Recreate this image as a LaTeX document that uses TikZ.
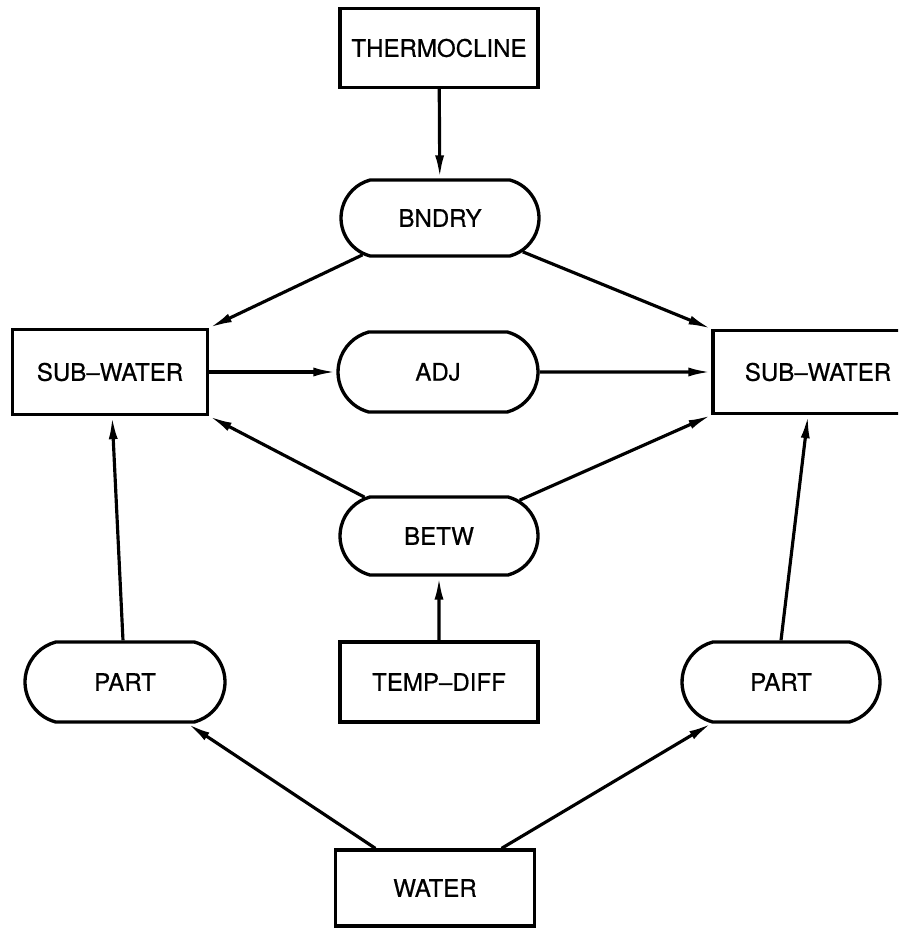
\documentclass[tikz,border=0pt]{standalone}
\usepackage{fontspec}
\setmainfont{TeX Gyre Heros}[FakeBold=0.6]
\usetikzlibrary{arrows.meta,shapes.misc}

\begin{document}
\begin{tikzpicture}[
  x=0.02cm, y=-0.02cm,
  every node/.style={inner sep=0pt,
    font=\fontsize{13.7pt}{16pt}\selectfont},
  box/.style={draw, line width=1.9pt, rectangle,
    minimum width=3.96cm, minimum height=1.58cm},
  proc/.style={draw, line width=1.9pt, rounded rectangle,
    rounded rectangle arc length=150,
    minimum width=3.96cm, minimum height=1.56cm},
  arr/.style={line width=1.8pt, -{Latex[length=0.46cm,width=0.18cm]}}
]
\useasboundingbox (0,0) rectangle (898,928);
\clip (0,0) rectangle (898,928);

% nodes
\node[box]  (thermo) at (439,48)  {THERMOCLINE};
\node[proc, minimum height=1.52cm] (bndry) at (440,218) {BNDRY};
\node[box, minimum width=3.9cm, minimum height=1.7cm] (subL) at (110,372) {SUB--WATER};
\node[proc, minimum width=4.0cm, minimum height=1.6cm] (adj) at (438,372) {ADJ};
\node[box, minimum width=4.2cm, minimum height=1.66cm] (subR) at (818,372) {SUB--WATER};
\node[proc] (betw) at (439,536) {BETW};
\node[box, minimum height=1.6cm] (tdiff) at (439,682) {TEMP--DIFF};
\node[proc, minimum width=4.0cm, minimum height=1.6cm] (partL) at (125,682) {PART};
\node[proc, minimum height=1.6cm] (partR) at (781,682) {PART};
\node[box, minimum width=3.98cm, minimum height=1.52cm] (water) at (435,888) {WATER};

% connectors
\draw[arr] (thermo) -- (bndry);
\draw[arr] (bndry) -- (subL.north east);
\draw[arr] (bndry) -- (subR.north west);
\draw[arr] (subL) -- (adj);
\draw[arr] (adj) -- (subR);
\draw[arr] (betw) -- (subL.south east);
\draw[arr] (betw) -- (subR.south west);
\draw[arr] (tdiff) -- (betw);
\draw[arr] (partL) -- (subL);
\draw[arr] (partR.north) -- ([xshift=-0.2cm]subR.south);
\draw[arr] (water) -- (partL);
\draw[arr] (water) -- (partR);
\end{tikzpicture}
\end{document}
